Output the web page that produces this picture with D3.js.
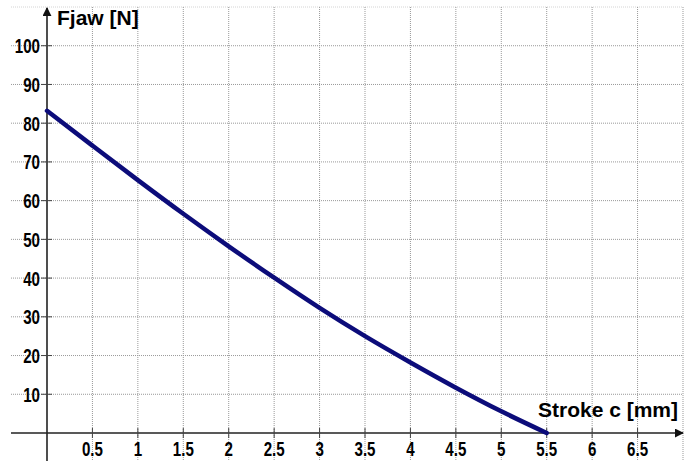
<!DOCTYPE html>
<html>
<head>
<meta charset="utf-8">
<script src="https://cdn.jsdelivr.net/npm/d3@7"></script>
<style>
  body { margin: 0; background: #fff; }
  .tick-label { font-family: 'Liberation Sans', Arial, sans-serif; font-weight: bold; font-size: 21px; fill: #000; }
  .axis-title { font-family: 'Liberation Sans', Arial, sans-serif; font-weight: bold; font-size: 21px; fill: #000; }
</style>
</head>
<body>
<div class="chart-container"></div>
<script>
// Data
const stroke = [0, 0.5, 1, 1.5, 2, 2.5, 3, 3.5, 4, 4.5, 5, 5.5];
const force = [83.2, 74.2, 65.3, 56.6, 48.2, 40.1, 32.3, 25.0, 18.2, 11.7, 5.6, 0];
const xTicks = [0.5, 1, 1.5, 2, 2.5, 3, 3.5, 4, 4.5, 5, 5.5, 6, 6.5];
const xGrid = [0.5, 1, 1.5, 2, 2.5, 3, 3.5, 4, 4.5, 5, 5.5, 6, 6.5, 7];
const yTicks = [10, 20, 30, 40, 50, 60, 70, 80, 90, 100];
const yGrid = [10, 20, 30, 40, 50, 60, 70, 80, 90, 100, 110];

// Margin Convention
const margin = { top: 7, right: 9, bottom: 28, left: 47 };
const width = 692 - margin.left - margin.right;
const height = 461 - margin.top - margin.bottom;

// Scales
const xScale = d3.scaleLinear().domain([0, 7]).range([0, width]);
const yScale = d3.scaleLinear().domain([0, 110]).range([height, 0]);

const svg = d3.select('.chart-container')
    .append('svg')
    .attr('width', 692)
    .attr('height', 461)
    .append('g')
    .attr('transform', `translate(${margin.left},${margin.top})`);

// arrow marker
svg.append('defs').append('marker')
    .attr('id', 'arrow')
    .attr('viewBox', '0 0 10 10')
    .attr('refX', 9)
    .attr('refY', 5)
    .attr('markerWidth', 9)
    .attr('markerHeight', 9)
    .attr('markerUnits', 'userSpaceOnUse')
    .attr('orient', 'auto')
    .append('path')
    .attr('d', 'M0,0L10,5L0,10z')
    .attr('fill', '#111');

// Grid
const gridLeft = -36;
const gridBottom = height + margin.bottom;

svg.append('g').selectAll('line')
    .data(yGrid)
    .join('line')
    .attr('x1', gridLeft)
    .attr('x2', width)
    .attr('y1', d => yScale(d))
    .attr('y2', d => yScale(d))
    .attr('stroke', d => d === 110 ? '#d4d4d4' : '#999')
    .attr('stroke-width', 1)
    .attr('stroke-dasharray', '1,1');

svg.append('g').selectAll('line')
    .data(xGrid)
    .join('line')
    .attr('x1', d => xScale(d))
    .attr('x2', d => xScale(d))
    .attr('y1', yScale(110))
    .attr('y2', gridBottom)
    .attr('stroke', '#999')
    .attr('stroke-width', 1)
    .attr('stroke-dasharray', '1,1');

// Axes lines
svg.append('line')
    .attr('x1', gridLeft)
    .attr('x2', xScale(7))
    .attr('y1', yScale(0))
    .attr('y2', yScale(0))
    .attr('stroke', '#222')
    .attr('stroke-width', 1.6)
    .attr('marker-end', 'url(#arrow)');

svg.append('line')
    .attr('x1', xScale(0))
    .attr('x2', xScale(0))
    .attr('y1', gridBottom)
    .attr('y2', 1)
    .attr('stroke', '#222')
    .attr('stroke-width', 1.6)
    .attr('marker-end', 'url(#arrow)');

// tick marks
svg.append('g').selectAll('line')
    .data(xTicks)
    .join('line')
    .attr('x1', d => xScale(d))
    .attr('x2', d => xScale(d))
    .attr('y1', yScale(0) - 5)
    .attr('y2', yScale(0) + 5)
    .attr('stroke', '#444')
    .attr('stroke-width', 1);

svg.append('g').selectAll('line')
    .data(yTicks)
    .join('line')
    .attr('x1', -6)
    .attr('x2', 5)
    .attr('y1', d => yScale(d))
    .attr('y2', d => yScale(d))
    .attr('stroke', '#444')
    .attr('stroke-width', 1);

// Tick labels (condensed look via horizontal scale)
const squeeze = 0.72;

svg.append('g').selectAll('text')
    .data(xTicks)
    .join('text')
    .attr('class', 'tick-label')
    .attr('transform', d => `translate(${xScale(d)},${height + 23}) scale(${squeeze},1)`)
    .attr('text-anchor', 'middle')
    .text(d => d);

svg.append('g').selectAll('text')
    .data(yTicks)
    .join('text')
    .attr('class', 'tick-label')
    .attr('transform', d => `translate(-7,${yScale(d) + 7.5}) scale(${squeeze},1)`)
    .attr('text-anchor', 'end')
    .text(d => d);

// Titles
svg.append('text')
    .attr('class', 'axis-title')
    .attr('x', 10)
    .attr('y', 18)
    .text('Fjaw [N]');

svg.append('text')
    .attr('class', 'axis-title')
    .attr('x', xScale(7) - 5)
    .attr('y', yScale(0) - 16)
    .attr('text-anchor', 'end')
    .text('Stroke c [mm]');

// Curve
const line = d3.line()
    .x((d, i) => xScale(stroke[i]))
    .y(d => yScale(d))
    .curve(d3.curveMonotoneX);

svg.append('path')
    .datum(force)
    .attr('d', line)
    .attr('fill', 'none')
    .attr('stroke', '#0c0c7a')
    .attr('stroke-width', 4.5)
    .attr('stroke-linecap', 'round');
</script>
</body>
</html>
